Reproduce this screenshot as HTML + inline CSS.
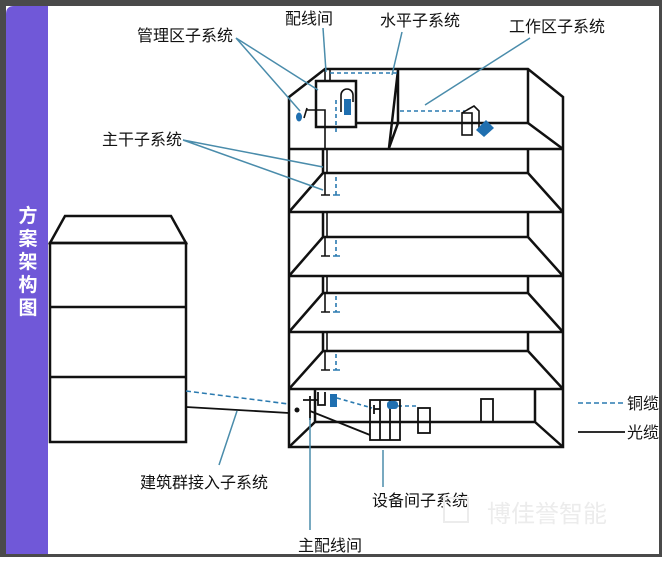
<!DOCTYPE html>
<html><head><meta charset="utf-8"><style>
html,body{margin:0;padding:0;background:#fff;}
body{width:662px;height:557px;overflow:hidden;}
text{font-family:"Liberation Sans","Noto Sans CJK SC",sans-serif;}
</style></head><body>
<svg width="662" height="557" viewBox="0 0 662 557" xmlns="http://www.w3.org/2000/svg">
<rect x="0" y="0" width="662" height="557" fill="#fff"/>
<!-- frame -->
<rect x="0" y="0" width="662" height="6" fill="#4a4a4a"/>
<rect x="0" y="0" width="6" height="557" fill="#4a4a4a"/>
<rect x="659" y="0" width="3" height="557" fill="#4a4a4a"/>
<rect x="0" y="554" width="662" height="3" fill="#4a4a4a"/>
<path d="M6 557 V14 Q6 6 14 6 H48 V554 H6 Z" fill="#7058d8"/>
<g fill="#fff" font-size="19" font-weight="bold" text-anchor="middle">
<text x="28" y="222">方</text><text x="28" y="245">案</text><text x="28" y="268">架</text><text x="28" y="291">构</text><text x="28" y="314">图</text>
</g>
<!-- left building -->
<g stroke="#111" stroke-width="2.5" fill="none">
<path d="M50 243 L65 216 H171 L186 243 Z"/>
<rect x="50" y="243" width="136" height="199"/>
<line x1="50" y1="307" x2="186" y2="307"/>
<line x1="50" y1="377" x2="186" y2="377"/>
</g>
<!-- main building -->
<g stroke="#111" stroke-width="2.5" fill="none">
<path d="M289 447 V97 L325 69 H528 L563 97 V447 Z"/>
<line x1="528" y1="69" x2="528" y2="123"/>
<line x1="356" y1="123" x2="528" y2="123"/>
<line x1="528" y1="123" x2="563" y2="149"/>
<line x1="289" y1="149" x2="563" y2="149"/>
<path d="M398 70 V123 L389 148 Z"/>
<rect x="316" y="81" width="40" height="46"/>
<!-- floors -->
<path d="M323 149 V173 M528 149 V173 M323 173 H528 M323 173 L289 212 M528 173 L563 212 M289 212 H563"/>
<path d="M323 212 V237 M528 212 V237 M323 237 H528 M323 237 L289 276 M528 237 L563 276 M289 276 H563"/>
<path d="M323 276 V293 M528 276 V293 M323 293 H528 M323 293 L289 332 M528 293 L563 332 M289 332 H563"/>
<path d="M323 332 V351 M528 332 V351 M323 351 H528 M323 351 L289 389 M528 351 L563 389 M289 389 H563"/>
<path d="M315 389 V422 M535 389 V422 M315 422 H535 M315 422 L289 447 M535 422 L563 447"/>
</g>
<!-- risers -->
<g stroke="#111" stroke-width="1.6" fill="none">
<path d="M325 69 V81 M330 69 V81"/>
<path d="M323 149 V173 M327 149 V173 M325 173 V195 M321 195 H330"/>
<path d="M323 212 V237 M327 212 V237 M325 237 V256 M321 256 H330"/>
<path d="M323 276 V293 M327 293 V293 M327 276 V293 M325 293 V312 M321 312 H330"/>
<path d="M323 332 V351 M327 332 V351 M325 351 V370 M321 370 H330"/>
<path d="M307 110 H325 V149 M307 108 L304 118"/>
<path d="M341 112 V95 A6 6 0 0 1 353 95 V102"/>
</g>
<g stroke="#2a7ab0" stroke-width="1.6" fill="none" stroke-dasharray="4,3">
<path d="M330 73 H398"/>
<path d="M336 100 V133"/>
<path d="M400 111 H465"/>
<path d="M336 177 V195"/><path d="M336 240 V256"/><path d="M336 296 V312"/><path d="M336 354 V370"/>
<path d="M186 391 L289 404" stroke-dasharray="5,3"/>
<path d="M337 398 L372 408"/>
<path d="M398 406 H418"/>
<path d="M578 403 H625" stroke-dasharray="5,3"/>
</g>
<g stroke="#2a7ab0" stroke-width="1.6"><path d="M333 195 H340 M333 256 H340 M333 312 H340 M333 370 H340"/></g>
<rect x="344" y="99" width="7" height="16" fill="#1f6fb0"/>
<ellipse cx="299" cy="117" rx="3" ry="4.5" fill="#1f6fb0"/>
<!-- work area -->
<g stroke="#111" stroke-width="1.6" fill="none">
<rect x="462" y="113" width="10" height="22"/><path d="M467 110 L474 106 L479 111 V128 M462 113 L467 110"/>
</g>
<path d="M476 130 L486 120 L494 128 L484 137 Z" fill="#1f6fb0"/>
<!-- bottom floor equipment -->
<g stroke="#111" stroke-width="1.8" fill="none">
<path d="M303 400 H318 M310 396 V420 M318 392 V405 H325 V392"/>
<path d="M310 411 L370 435"/>
<rect x="370" y="400" width="30" height="40"/>
<path d="M380 400 V440 M390 400 V440"/>
<path d="M374 405 V414 M374 409 H380"/>
<rect x="418" y="408" width="12" height="25"/>
<rect x="481" y="399" width="12" height="23"/>
<path d="M186 407 L289 413"/>
<path d="M578 432 H625"/>
</g>
<rect x="330" y="394" width="7" height="13" fill="#1f6fb0"/>
<rect x="387" y="401" width="11" height="8" rx="3" fill="#1f6fb0"/>
<circle cx="297" cy="410" r="2.5" fill="#111"/>
<!-- leader lines -->
<g stroke="#4a8cab" stroke-width="1.5" fill="none">
<path d="M236 38 L318 90 M236 38 L300 111"/>
<path d="M323 28 L326 72"/>
<path d="M402 32 L392 75"/>
<path d="M530 38 L425 105"/>
<path d="M183 140 L323 167 M183 140 L323 190"/>
<path d="M219 465 L237 411"/>
<path d="M383 487 L383 450"/>
<path d="M310 530 L310 418"/>
</g>
<!-- labels -->
<g fill="#111" font-size="16">
<text x="137" y="41">管理区子系统</text>
<text x="285" y="24">配线间</text>
<text x="380" y="26">水平子系统</text>
<text x="509" y="32">工作区子系统</text>
<text x="102" y="145">主干子系统</text>
<text x="140" y="488">建筑群接入子系统</text>
<text x="372" y="506">设备间子系统</text>
<text x="298" y="551">主配线间</text>
<text x="627" y="409">铜缆</text>
<text x="627" y="438">光缆</text>
</g>
<rect x="444" y="498" width="24" height="24" fill="none" stroke="#ececec" stroke-width="2"/>
<text x="487" y="522" font-size="24" fill="#ececec">博佳誉智能</text>
</svg>
</body></html>
